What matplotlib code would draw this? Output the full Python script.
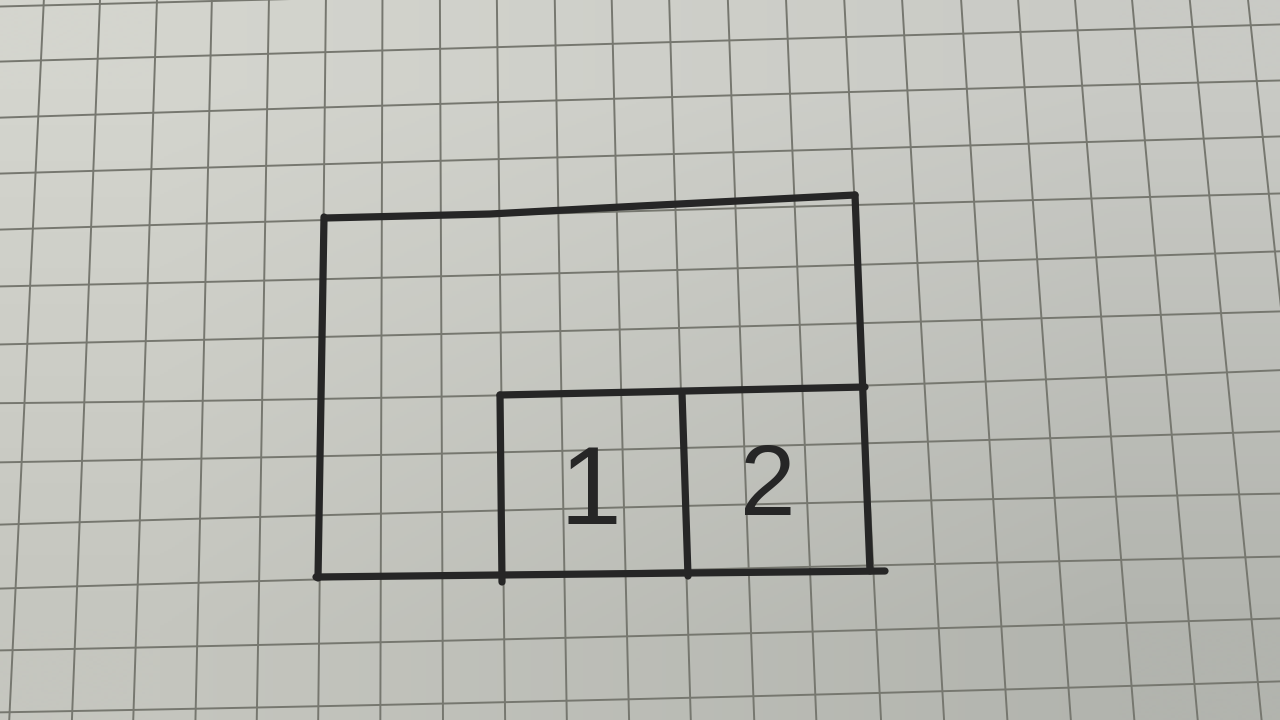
"""
Hand-drawn layout sketch on squared paper: a 9x6 box with two numbered
cells (1, 2) in its lower right part. Recreated in pixel coordinates.
"""

import matplotlib.pyplot as plt
import numpy as np

# --- grid paper (pixel coords, y down) -------------------------------------
# vertical grid lines: x where each line crosses y=20 and y=700
GRID_V_Y = (20.0, 700.0)
grid_v_top = [42.9, 99.2, 156.3, 211.4, 268.6, 325.7, 382.4, 440.0, 497.1,
              555.1, 612.2, 669.8, 728.6, 786.9, 845.3, 903.3, 962.4,
              1019.6, 1076.7, 1133.9, 1191.8, 1250.2]
grid_v_bottom = [10.2, 72.7, 133.9, 195.9, 257.1, 318.4, 380.4, 442.9, 504.9,
                 566.5, 628.6, 690.2, 753.5, 815.5, 880.0, 942.9, 1006.1,
                 1069.4, 1132.7, 1195.9, 1259.6, 1323.0]

# horizontal grid lines: y where each line crosses x=20, x=640 and x=1260
GRID_H_X = (20.0, 640.0, 1260.0)
grid_h_left = [6, 61, 117, 173, 229, 286, 344, 403, 462, 524, 588, 650, 712]
grid_h_mid = [-10, 43, 98, 155, 211, 271, 329, 392, 449, 507, 571, 636, 699]
grid_h_right = [-26, 25, 81, 137, 194, 252, 312, 371, 432, 494, 557, 619, 682]

# --- ink strokes ------------------------------------------------------------
outer_top_x = [325, 490, 640, 855]
outer_top_y = [218, 214, 206, 195]
outer_left_x = [324, 318]
outer_left_y = [217, 578]
outer_bottom_x = [316, 500, 688, 885]
outer_bottom_y = [577, 575, 573, 571]
outer_right_x = [855, 870]
outer_right_y = [195, 571]
inner_top_x = [500, 640, 865]
inner_top_y = [395, 392, 387]
divider_a_x = [500, 502]
divider_a_y = [395, 582]
divider_b_x = [682, 688]
divider_b_y = [393, 576]

cell_labels = ["1", "2"]
label_x = [590, 768]
label_base_y = [524, 515]
label_size = [80, 72]

PAPER_CORNERS = np.array([[[212, 213, 206], [201, 202, 197]],
                          [[197, 198, 191], [178, 180, 174]]]) / 255.0
GRID_COLOR = "#76776f"
INK_COLOR = "#262626"

fig = plt.figure(figsize=(12.8, 7.2), dpi=100)
ax = fig.add_axes([0, 0, 1, 1])
ax.set_xlim(0, 1280)
ax.set_ylim(720, 0)
ax.axis("off")

# paper with a bit of vignetting
ax.imshow(PAPER_CORNERS, extent=(-320, 1600, 900, -180),
          interpolation="bilinear", zorder=0)

# vertical grid lines, extended past the frame
ys = np.array([-10.0, 730.0])
for xt, xb in zip(grid_v_top, grid_v_bottom):
    slope = (xb - xt) / (GRID_V_Y[1] - GRID_V_Y[0])
    ax.plot(xt + slope * (ys - GRID_V_Y[0]), ys, color=GRID_COLOR,
            lw=1.4, zorder=1)

# horizontal grid lines, slightly bowed
xs = np.linspace(-10, 1290, 60)
for yl, ym, yr in zip(grid_h_left, grid_h_mid, grid_h_right):
    coef = np.polyfit(GRID_H_X, [yl, ym, yr], 2)
    ax.plot(xs, np.polyval(coef, xs), color=GRID_COLOR, lw=1.4, zorder=1)

# marker strokes
strokes = [
    (outer_top_x, outer_top_y),
    (outer_left_x, outer_left_y),
    (outer_bottom_x, outer_bottom_y),
    (outer_right_x, outer_right_y),
    (inner_top_x, inner_top_y),
    (divider_a_x, divider_a_y),
    (divider_b_x, divider_b_y),
]
for sx, sy in strokes:
    ax.plot(sx, sy, color=INK_COLOR, lw=5.2, solid_capstyle="round",
            solid_joinstyle="round", zorder=3)

for txt, tx, ty, fs in zip(cell_labels, label_x, label_base_y, label_size):
    ax.text(tx, ty, txt, ha="center", va="baseline", fontsize=fs,
            family="Liberation Sans", color=INK_COLOR, zorder=4)

fig.savefig("out.png", dpi=100)
